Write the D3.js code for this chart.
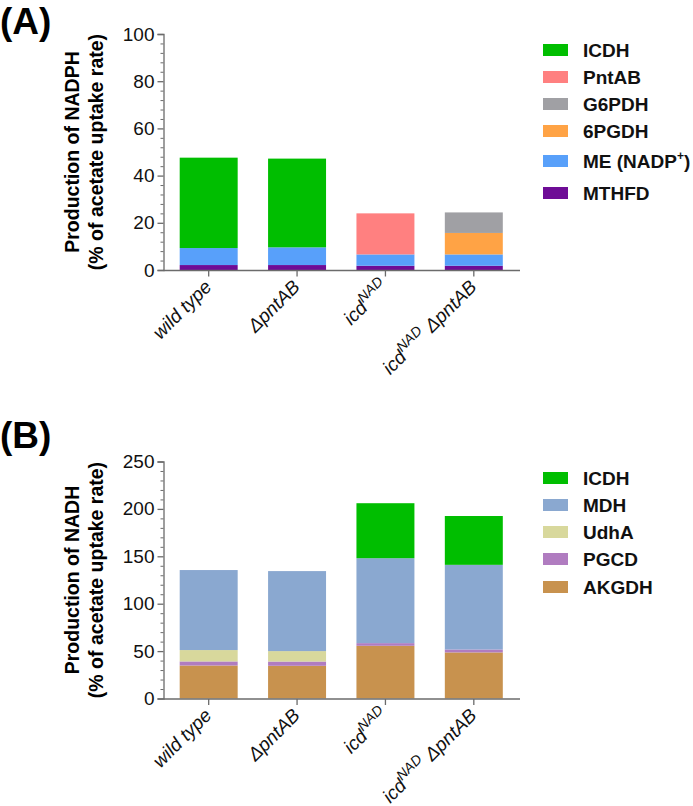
<!DOCTYPE html>
<html><head><meta charset="utf-8">
<script src="https://cdn.jsdelivr.net/npm/d3@7/dist/d3.min.js"></script>
<style>body{margin:0;background:#fff}svg{display:block;font-family:"Liberation Sans",Arial,sans-serif}</style>
</head><body><svg id="c" width="693" height="806"></svg>
<script>
const categories = ["wild type", "ΔpntAB", "icdNAD", "icdNAD ΔpntAB"];

// Panel A (NADPH), stacked bottom -> top
const seriesA = ["MTHFD", "ME (NADP+)", "6PGDH", "G6PDH", "PntAB", "ICDH"];
const MTHFD = [2.1, 2.1, 1.8, 1.8];
const ME = [7.2, 7.5, 4.8, 4.8];
const PGDH6 = [0, 0, 0, 9.1];
const G6PDH = [0, 0, 0, 8.7];
const PntAB = [0, 0, 17.4, 0];
const ICDH_A = [38.3, 37.6, 0, 0];
const colorsA = ["#6E0C96", "#58A0FA", "#FFA345", "#A0A0A4", "#FF8080", "#00BE00"];
const legendA = ["ICDH", "PntAB", "G6PDH", "6PGDH", "ME (NADP+)", "MTHFD"];
const ticksA = [0, 20, 40, 60, 80, 100];

// Panel B (NADH)
const seriesB = ["AKGDH", "PGCD", "UdhA", "MDH", "ICDH"];
const AKGDH = [34.8, 34.5, 55.6, 48.6];
const PGCD = [4.3, 4.5, 2.8, 3.1];
const UdhA = [12.0, 11.0, 0, 0];
const MDH = [84.4, 84.4, 89.6, 89.3];
const ICDH_B = [0, 0, 58, 51.5];
const colorsB = ["#C8924E", "#B07CC0", "#D8D89C", "#8AA8D0", "#00BE00"];
const legendB = ["ICDH", "MDH", "UdhA", "PGCD", "AKGDH"];
const ticksB = [0, 50, 100, 150, 200, 250];

const svg = d3.select("#c");
const axisColor = "#6b6b6b";

function panel(opts) {
  const g = svg.append("g");
  const y = d3.scaleLinear().domain([0, opts.max]).range([opts.y0, opts.y1]);
  const x = d3.scaleBand().domain(categories).range([164.5, 518]).paddingInner(0.344).paddingOuter(0.172);
  const rows = categories.map((c, i) => {
    const o = {cat: c};
    opts.keys.forEach((k, j) => o[k] = opts.vals[j][i]);
    return o;
  });
  const stacked = d3.stack().keys(opts.keys)(rows);
  const color = d3.scaleOrdinal().domain(opts.keys).range(opts.colors);
  g.selectAll("g.s").data(stacked).join("g").attr("fill", d => color(d.key))
    .selectAll("rect").data(d => d).join("rect")
    .attr("x", d => x(d.data.cat)).attr("width", x.bandwidth())
    .attr("y", d => y(d[1])).attr("height", d => Math.max(0, y(d[0]) - y(d[1])));

  // y axis major
  const ya = g.append("g").attr("transform", "translate(163.5,0)")
    .call(d3.axisLeft(y).tickValues(opts.ticks).tickSize(6).tickPadding(3).tickFormat(d3.format("d")));
  ya.select(".domain").attr("stroke", axisColor).attr("stroke-width", 1.3);
  ya.selectAll(".tick line").attr("stroke", axisColor).attr("stroke-width", 1.3);
  ya.selectAll("text").attr("font-size", 19).attr("fill", "#111").attr("font-family", "Liberation Sans, Arial");
  // minor ticks
  const minors = d3.range(0, opts.max + 0.001, opts.minor).filter(v => !opts.ticks.includes(v));
  g.append("g").selectAll("line").data(minors).join("line")
    .attr("x1", 160.5).attr("x2", 163.5).attr("y1", d => y(d) + 0.5).attr("y2", d => y(d) + 0.5)
    .attr("stroke", axisColor).attr("stroke-width", 1);

  // x axis
  const xa = g.append("g").attr("transform", `translate(0,${opts.y0 + 0.5})`)
    .call(d3.axisBottom(x).tickSize(6).tickFormat(""));
  xa.select(".domain").attr("d", `M163.5,0H520`).attr("stroke", axisColor).attr("stroke-width", 1.3);
  xa.selectAll(".tick line").attr("stroke", axisColor).attr("stroke-width", 1.3);

  // x labels
  const lab = g.append("g").selectAll("text").data(categories).join("text")
    .attr("transform", d => `translate(${x(d) + x.bandwidth() / 2 + 4},${opts.y0 + 18}) rotate(-45)`)
    .attr("text-anchor", "end").attr("font-size", 19).attr("font-style", "italic").attr("fill", "#111");
  lab.each(function(d) {
    const t = d3.select(this);
    if (d === "icdNAD") {
      t.append("tspan").text("icd");
      t.append("tspan").text("NAD").attr("font-size", 14).attr("dy", -8);
    } else if (d === "icdNAD ΔpntAB") {
      t.append("tspan").text("icd");
      t.append("tspan").text("NAD").attr("font-size", 14).attr("dy", -8);
      t.append("tspan").text(" ΔpntAB").attr("dy", 8);
    } else t.text(d);
  });

  // y title
  const tt = g.append("text").attr("transform", `translate(79,${opts.titleY}) rotate(-90)`)
    .attr("text-anchor", "middle").attr("font-weight", "bold").attr("font-size", 19.5).attr("fill", "#000");
  tt.append("tspan").attr("x", 0).attr("dy", 0).text(opts.title1);
  tt.append("tspan").attr("x", 0).attr("dy", 24).text("(% of acetate uptake rate)");

  // panel label
  g.append("text").attr("x", 0).attr("y", opts.labelY).attr("font-weight", "bold").attr("font-size", 37)
    .attr("fill", "#000").text(opts.label);

  // legend
  const lg = g.append("g");
  opts.legend.forEach((name, i) => {
    const yy = opts.legY[i];
    lg.append("rect").attr("x", 543).attr("y", yy - 6).attr("width", 25).attr("height", 12)
      .attr("fill", color(name));
    const t = lg.append("text").attr("x", 583).attr("y", yy + 7).attr("font-weight", "bold")
      .attr("font-size", 19).attr("fill", "#111");
    if (name === "ME (NADP+)") {
      t.append("tspan").text("ME (NADP");
      t.append("tspan").text("+").attr("font-size", 12).attr("dy", -8);
      t.append("tspan").text(")").attr("dy", 8);
    } else t.text(name);
  });
}

panel({max: 100, y0: 270, y1: 34, keys: seriesA, vals: [MTHFD, ME, PGDH6, G6PDH, PntAB, ICDH_A],
  colors: colorsA, ticks: ticksA, minor: 4, title1: "Production of NADPH", titleY: 152,
  label: "(A)", labelY: 34, legend: legendA, legY: [50, 77, 104, 131, 161, 193]});

panel({max: 250, y0: 698.5, y1: 461.5, keys: seriesB, vals: [AKGDH, PGCD, UdhA, MDH, ICDH_B],
  colors: colorsB, ticks: ticksB, minor: 10, title1: "Production of NADH", titleY: 580,
  label: "(B)", labelY: 448, legend: legendB, legY: [478, 505, 532, 559, 587]});
</script></body></html>
